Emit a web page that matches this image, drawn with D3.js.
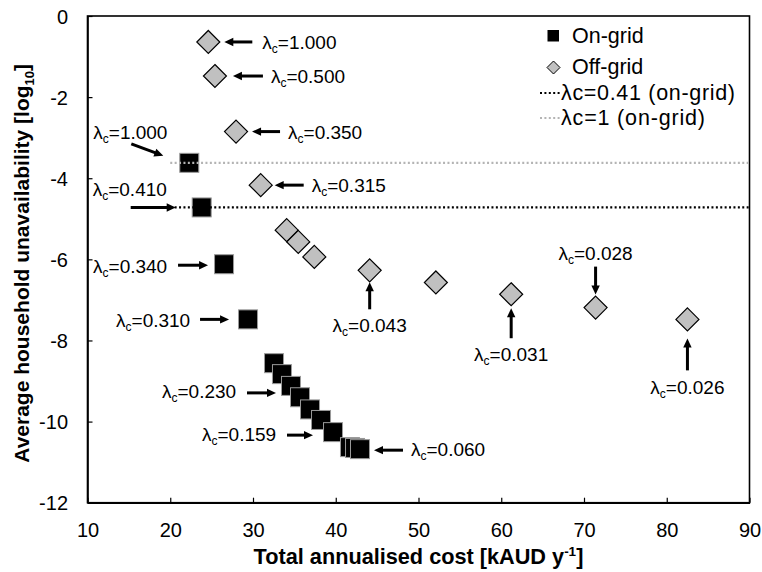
<!DOCTYPE html>
<html><head><meta charset="utf-8">
<script src="https://cdn.jsdelivr.net/npm/d3@7/dist/d3.min.js"></script>
<style>
body{margin:0;background:#fff}
svg{display:block}
text{font-family:"Liberation Sans",Arial,sans-serif;fill:#000}
</style>
</head><body>
<svg id="c" width="762" height="572"></svg>
<script>
// ---------- data ----------
const onGridCost = [22.3, 23.8, 26.5, 29.4, 32.54, 33.5, 34.59, 35.68, 36.89, 38.22, 39.67, 41.72, 42.33, 42.93];
const onGridUnav = [-3.62, -4.72, -6.12, -7.48, -8.56, -8.83, -9.12, -9.4, -9.7, -9.96, -10.26, -10.63, -10.65, -10.68];
const offGridCost = [24.6, 25.4, 27.95, 30.93, 34.07, 35.47, 37.41, 44.1, 52.1, 61.2, 71.4, 82.5];
const offGridUnav = [-0.64, -1.48, -2.85, -4.17, -5.28, -5.57, -5.94, -6.27, -6.57, -6.86, -7.19, -7.48];
const refLineCost = [20, 90];
const refLine041 = [-4.72, -4.72];
const refLine1 = [-3.62, -3.62];
const xTicks = [10, 20, 30, 40, 50, 60, 70, 80, 90];
const yTicks = [0, -2, -4, -6, -8, -10, -12];
const legendLabels = ["On-grid", "Off-grid", "λc=0.41 (on-grid)", "λc=1 (on-grid)"];
const offLabelValues = ["1.000", "0.500", "0.350", "0.315", "0.043", "0.031", "0.028", "0.026"];
const offLabelIndex = [0, 1, 2, 3, 7, 9, 10, 11];
const onLabelValues = ["1.000", "0.410", "0.340", "0.310", "0.230", "0.159", "0.060"];
const onLabelIndex = [0, 1, 2, 3, 6, 10, 13];

// ---------- layout (offsets from marker centre: tail, tip, text) ----------
const offLayout = [
  [44,0,16,0,54,7,"start"],[48,0,18,0,56,7,"start"],[44,0,16,0,52,7,"start"],[43,0,14,0,51,7,"start"],
  [0,39,0,12,0,62,"middle"],[0,44,0,14,0,67,"middle"],[0,-41,0,-13,0,-48,"middle"],[0,51,0,19,0,75,"middle"]
];
const onLayout = [
  [-58,-19,-26,-7,-96,-24,"start"],[-71,0,-26,0,-109,-11,"start"],[-46,1,-16,1,-131,9,"start"],
  [-48,0,-19,0,-132,8,"start"],[-44,7,-15,7,-129,12,"start"],[-46,3,-20,3,-131,9,"start"],[43,1,14,1,51,7,"start"]
];

const svg = d3.select("#c");
const L = 87.5, R = 749.5, T = 16, B = 502.7;
const x = d3.scaleLinear().domain([10, 90]).range([L, R]);
const y = d3.scaleLinear().domain([-12, 0]).range([B, T]);

// frame
svg.append("rect").attr("x", L).attr("y", T).attr("width", R - L).attr("height", B - T)
  .attr("fill", "none").attr("stroke", "#000").attr("stroke-width", 1.6);

// axes
const gx = svg.append("g").attr("transform", `translate(0,${B})`)
  .call(d3.axisBottom(x).tickValues(xTicks).tickSizeInner(-5).tickSizeOuter(0).tickFormat(d => String(d)));
gx.select(".domain").attr("stroke-width", 1.6);
gx.selectAll(".tick line").attr("stroke-width", 1.2);
gx.selectAll(".tick text").attr("y", 34).attr("dy", 0).attr("font-size", 20).attr("font-family", null);

const gy = svg.append("g").attr("transform", `translate(${L},0)`)
  .call(d3.axisLeft(y).tickValues(yTicks).tickSizeInner(-5).tickSizeOuter(0).tickFormat(d => String(d)));
gy.select(".domain").attr("stroke-width", 1.6);
gy.selectAll(".tick line").attr("stroke-width", 1.2);
gy.selectAll(".tick text").attr("x", -19.5).attr("dy", "0.36em").attr("font-size", 20).attr("font-family", null);

// axis titles
const xt = svg.append("text").attr("x", (L + R) / 2).attr("y", 564).attr("text-anchor", "middle")
  .attr("font-size", 21.7).attr("font-weight", "bold");
xt.append("tspan").text("Total annualised cost [kAUD y");
xt.append("tspan").attr("font-size", 13.5).attr("dy", -8).text("-1");
xt.append("tspan").attr("dy", 8).text("]");

const yt = svg.append("text").attr("transform", `translate(29,${(T + B) / 2 + 4}) rotate(-90)`)
  .attr("text-anchor", "middle").attr("font-size", 21).attr("font-weight", "bold");
yt.append("tspan").text("Average household unavailability [log");
yt.append("tspan").attr("font-size", 13).attr("dy", 5).text("10");
yt.append("tspan").attr("dy", -5).text("]");

// markers
const sq = 19, dh = 11.5;
const onPts = onGridCost.map((c, i) => [c, onGridUnav[i]]);
const offPts = offGridCost.map((c, i) => [c, offGridUnav[i]]);

svg.append("g").selectAll("rect").data(onPts).join("rect")
  .attr("x", d => x(d[0]) - sq / 2).attr("y", d => y(d[1]) - sq / 2)
  .attr("width", sq).attr("height", sq).attr("fill", "#000").attr("stroke", "#9a9a9a").attr("stroke-width", 1);

svg.append("g").selectAll("path").data(offPts).join("path")
  .attr("d", d => { const cx = x(d[0]), cy = y(d[1]); return `M${cx},${cy - dh}L${cx + dh},${cy}L${cx},${cy + dh}L${cx - dh},${cy}Z`; })
  .attr("fill", "#c0c0c0").attr("stroke", "#000").attr("stroke-width", 1.2);

// reference lines
const line = d3.line().x(d => x(d[0])).y(d => y(d[1]));
svg.append("path").attr("d", line(refLineCost.map((c, i) => [c, refLine1[i]])))
  .attr("fill", "none").attr("stroke", "#b4b4b4").attr("stroke-width", 2.2).attr("stroke-dasharray", "2 2.4");
svg.append("path").attr("d", line(refLineCost.map((c, i) => [c, refLine041[i]])))
  .attr("fill", "none").attr("stroke", "#000").attr("stroke-width", 2.2).attr("stroke-dasharray", "2 2.4");

// annotations
function arrow(g, x1, y1, x2, y2) {
  const dx = x2 - x1, dy = y2 - y1, len = Math.hypot(dx, dy), ux = dx / len, uy = dy / len;
  const hl = 9, hw = 4.2;
  const bx = x2 - ux * hl, by = y2 - uy * hl;
  g.append("line").attr("x1", x1).attr("y1", y1).attr("x2", bx + ux * 1.5).attr("y2", by + uy * 1.5)
    .attr("stroke", "#000").attr("stroke-width", 3);
  g.append("path").attr("d", `M${x2},${y2}L${bx - uy * hw},${by + ux * hw}L${bx + uy * hw},${by - ux * hw}Z`).attr("fill", "#000");
}
function lamLabel(g, tx, ty, anchor, val) {
  const t = g.append("text").attr("x", tx).attr("y", ty).attr("text-anchor", anchor).attr("font-size", 19);
  t.append("tspan").text("λ");
  t.append("tspan").attr("font-size", 12).attr("dy", 4).text("c");
  t.append("tspan").attr("dy", -4).text("=" + val);
}
const ga = svg.append("g");
function annotate(pts, idxs, vals, lay) {
  idxs.forEach((idx, k) => {
    const cx = x(pts[idx][0]), cy = y(pts[idx][1]);
    const [tdx, tdy, pdx, pdy, xdx, xdy, anc] = lay[k];
    arrow(ga, cx + tdx, cy + tdy, cx + pdx, cy + pdy);
    lamLabel(ga, cx + xdx, cy + xdy, anc, vals[k]);
  });
}
annotate(offPts, offLabelIndex, offLabelValues, offLayout);
annotate(onPts, onLabelIndex, onLabelValues, onLayout);

// legend
const lg = svg.append("g");
lg.append("rect").attr("x", 547.5).attr("y", 30).attr("width", 11.5).attr("height", 11.5).attr("fill", "#000");
lg.append("path").attr("d", "M553.5,61L560,67.5L553.5,74L547,67.5Z").attr("fill", "#c0c0c0").attr("stroke", "#000").attr("stroke-width", 1);
lg.append("line").attr("x1", 540).attr("x2", 560).attr("y1", 93).attr("y2", 93)
  .attr("stroke", "#000").attr("stroke-width", 2).attr("stroke-dasharray", "2 2.4");
lg.append("line").attr("x1", 540).attr("x2", 560).attr("y1", 118).attr("y2", 118)
  .attr("stroke", "#b4b4b4").attr("stroke-width", 2).attr("stroke-dasharray", "2 2.4");
const legY = [42.5, 74, 100, 125], legX = [572, 572, 561, 561], legLen = [null, null, 174, 144];
legendLabels.forEach((s, i) => {
  const t = lg.append("text").attr("x", legX[i]).attr("y", legY[i]).attr("font-size", 21.5).text(s);
  if (legLen[i]) t.attr("textLength", legLen[i]).attr("lengthAdjust", "spacing");
});
</script>
</body></html>
